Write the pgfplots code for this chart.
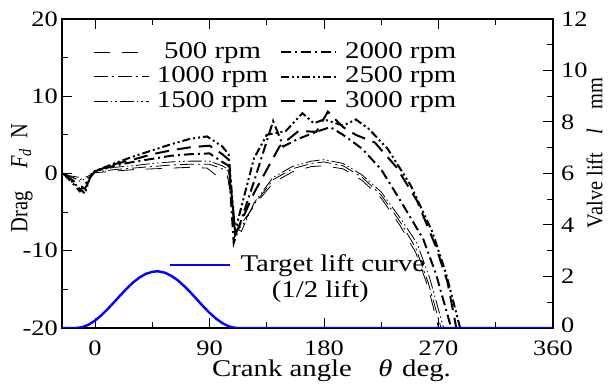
\documentclass[border=0pt]{standalone}
\usepackage{fontspec}
\setmainfont{Liberation Serif}[FakeStretch=1.2]
\newfontfamily\plainserif{Liberation Serif}
\usepackage{pgfplots}
\pgfplotsset{compat=1.18}
\newcommand\fs{\fontsize{24bp}{26bp}\selectfont}
\newcommand\ft{\fontsize{22bp}{24bp}\selectfont}
\newcommand\fl{\plainserif\fontsize{20.5bp}{22bp}\selectfont}
\begin{document}
\fs
\begin{tikzpicture}
\useasboundingbox (-62bp,-57bp) rectangle (546bp,328bp);
\begin{axis}[
  at={(0,0)}, anchor=south west,
  scale only axis, width=491bp, height=309bp,
  xmin=-26, xmax=360, ymin=-20, ymax=20,
  xtick={0,90,180,270,360}, minor xtick={45,135,225,315},
  ytick={-20,-10,0,10,20}, minor ytick={-15,-5,5,15},
  yticklabels={-20,-10,0,10,20},
  xtick pos=both, xticklabel pos=lower, ytick pos=left,
  tick align=inside,
  major tick length=10bp, minor tick length=6bp,
  axis line style={line width=1.1bp},
  every tick/.style={line width=1bp, black},
  tick label style={font=\ft},
  /pgf/number format/assume math mode=true,
  xticklabel style={yshift=-5bp},
  yticklabel style={xshift=4bp},
  xlabel={Crank angle\hspace{1.1em}\textit{θ}\hspace{0.4em}deg.},
  xlabel style={font=\fs, xshift=24bp, yshift=13bp},
  ylabel={\scalebox{1}[1.2]{Drag\hspace{1.1em}\textit{F\textsubscript{d}}\hspace{0.5em}N}},
  ylabel style={font=\fl, at={(axis description cs:-0.0815,0.485)}, anchor=center},
  legend columns=2,
  legend cell align=center,
  legend style={font=\fs, at={(0.063,0.925)}, anchor=north west, draw=none, fill=none, inner sep=0pt, row sep=5bp,
    nodes={inner sep=0pt},
    /tikz/every odd column/.append style={column sep=8bp},
    /tikz/every even column/.append style={column sep=12bp}},
  legend image code/.code={\draw[#1] (0bp,0bp) -- (55bp,0bp);},
]
% 500 rpm
\addplot[black, line width=0.8bp, dash pattern=on 16bp off 12bp] coordinates {
(-25,0) (-20,-0.3) (-12,-0.5) (-5,-0.1) (0,0.1) (15,0.3) (30,0.5) (45,0.6) (60,0.7) (75,0.8) (88,0.7) (95,-0.2) (100,-0.1) (104,-0.3) (110,-6.0) (115,-6.5) (125,-4.2) (140,-1.2) (155,0.2) (170,0.9) (180,1.0) (195,0.6) (210,-0.9) (225,-3.2) (240,-6.8) (252,-10.2) (262,-14.8) (270,-20)};
\addlegendentry{500 rpm}
% 2000 rpm
\addplot[black, line width=2bp, dash pattern=on 10bp off 4bp on 2bp off 4bp] coordinates {
(-25,0) (-18,-1.2) (-12,-2.3) (-6,-1.0) (0,0.3) (15,1.0) (30,1.5) (45,1.9) (60,2.3) (75,2.5) (90,2.6) (100,1.5) (105,1.0) (109,-9) (125,-1) (140,6.8) (148,3.5) (160,4.5) (174,5.4) (185,6) (195,5) (210,3.2) (225,0.5) (240,-3.5) (258,-8.5) (268,-13) (280,-20)};
\addlegendentry{2000 rpm}
% 1000 rpm
\addplot[black, line width=0.8bp, dash pattern=on 14bp off 4bp on 2bp off 4bp] coordinates {
(-25,0) (-20,-0.4) (-12,-0.8) (-5,-0.3) (0,0.2) (15,0.5) (30,0.7) (45,0.9) (60,1.1) (75,1.2) (90,1.2) (100,0.6) (105,0.3) (110,-6.5) (115,-7) (125,-4) (140,-0.8) (155,0.6) (170,1.3) (180,1.5) (195,1.0) (210,-0.5) (225,-2.8) (240,-6.3) (252,-9.6) (262,-14.2) (272,-20)};
\addlegendentry{1000 rpm}
% 2500 rpm
\addplot[black, line width=2bp, dash pattern=on 8bp off 3bp on 2bp off 3bp on 2bp off 3bp] coordinates {
(-25,0) (-15,-1.5) (-8,-2.6) (-4,-0.5) (0,0.3) (15,1.3) (30,2.2) (45,3.0) (60,3.8) (75,4.5) (88,4.8) (100,3.5) (105,2.5) (110,-7.5) (125,2) (135,5) (150,5.5) (163,7.8) (172,6.5) (180,7) (195,6.2) (205,7) (215,5.8) (230,3.2) (248,-1.5) (265,-7.5) (276,-13) (287,-20)};
\addlegendentry{2500 rpm}
% 1500 rpm
\addplot[black, line width=0.8bp, dash pattern=on 14bp off 3bp on 1.5bp off 3bp on 1.5bp off 3bp] coordinates {
(-25,0) (-18,-0.5) (-12,-1.0) (-5,-0.5) (0,0.3) (15,0.8) (30,1.0) (45,1.3) (60,1.5) (75,1.6) (90,1.6) (100,1.0) (105,0.5) (110,-7) (115,-7.5) (125,-3.8) (140,-0.5) (155,0.9) (170,1.6) (180,1.8) (195,1.3) (210,-0.2) (225,-2.4) (240,-5.8) (253,-9.0) (263,-13.5) (274,-20)};
\addlegendentry{1500 rpm}
% 3000 rpm
\addplot[black, line width=2bp, dash pattern=on 14bp off 8bp] coordinates {
(-25,0) (-15,-1.2) (-8,-2.0) (-3,-0.3) (0,0.3) (15,1.2) (30,1.8) (45,2.5) (60,3.0) (75,3.4) (90,3.6) (100,2.5) (105,1.8) (110,-8) (125,-2.5) (145,3.5) (160,5.5) (174,5.4) (183,8) (195,6) (205,5) (220,4) (237,0.8) (253,-3.5) (268,-9.5) (277,-14) (284,-20)};
\addlegendentry{3000 rpm}
\end{axis}
\begin{axis}[
  at={(0,0)}, anchor=south west,
  scale only axis, width=491bp, height=309bp,
  xmin=-26, xmax=360, ymin=0, ymax=12,
  axis x line=none, axis y line*=right,
  ytick={0,2,...,12}, minor ytick={1,3,...,11},
  yticklabel={\ifnum\ticknum=0 \raisebox{6bp}{0}\else\pgfmathprintnumber{\tick}\fi},
  tick align=inside,
  major tick length=10bp, minor tick length=6bp,
  axis line style={line width=1.1bp},
  every tick/.style={line width=1bp, black},
  tick label style={font=\ft},
  /pgf/number format/assume math mode=true,
  ylabel={\scalebox{1}[1.1]{Valve lift\hspace{0.9em}\textit{l}\hspace{0.9em}mm}},
  ylabel style={font=\fl, at={(axis description cs:1.0845,0.566)}, anchor=center},
  legend style={font=\fs, at={(0.218,0.204)}, anchor=west, draw=none, fill=none, inner sep=0pt,
    nodes={inner sep=0pt}, /tikz/every odd column/.append style={column sep=9bp}},
  legend image code/.code={\draw[#1] (0bp,0bp) -- (60bp,0bp);},
]
\addplot[blue, line width=2.4bp] coordinates {
(-26,0) (-15,0) (-10,0.033) (-5,0.132) (0,0.289) (5,0.496) (10,0.739) (15,1.005) (20,1.276) (25,1.537) (30,1.772) (35,1.964) (40,2.103) (45,2.183) (48.5,2.2) (50,2.197) (55,2.146) (60,2.025) (65,1.853) (70,1.633) (75,1.383) (80,1.113) (85,0.843) (90,0.589) (95,0.368) (100,0.191) (105,0.064) (110,0.006) (112,0) (360,0)};
\addlegendentry{Target lift curve}
\node[font=\fs] at (axis cs:177,1.40) {(1/2 lift)};
\end{axis}
\end{tikzpicture}
\end{document}
